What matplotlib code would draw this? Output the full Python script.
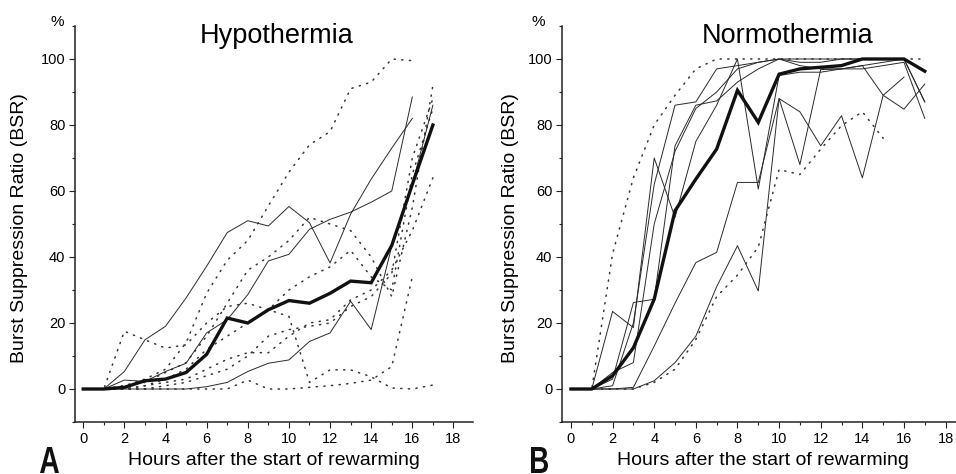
import numpy as np
import matplotlib.pyplot as plt
from matplotlib.ticker import MultipleLocator
from matplotlib.textpath import TextPath
from matplotlib.patches import PathPatch
from matplotlib.font_manager import FontProperties
from matplotlib.transforms import Affine2D

plt.rcParams['font.family'] = ['Liberation Sans', 'DejaVu Sans']

# ---- Panel A: hypothermia (BSR %, hourly from start of rewarming) ----
hypo_mean = [0, 0, 0.5, 2.5, 3, 5, 10.5, 21.5, 20, 24, 26.8, 26, 29, 32.7, 32.2, 43.5, 62, 80]
hypo_solid = [
    [0, 0, 5.3, 14.9, 19, 27.6, 37.2, 47.4, 51, 49.4, 55.3, 50.4, 38.2, 53, 63.6, 73, 82],
    [0, 0, 2.7, 2.3, 5.3, 7.8, 17, 21, 28.6, 38.8, 40.8, 48.4, 51.4, 53.6, 56.6, 60, 88.5],
    [0, 0, 0, 0, 0, 0, 0.7, 2, 5.3, 7.8, 8.8, 14.4, 17, 26.6, 18, 43.3, 62, 86],
]
hypo_dotted = [
    [0, 0, 1, 3, 6, 14, 29, 39, 45, 55.5, 65.7, 74, 78, 91, 93, 100, 99.5],
    [0, 0, 17.5, 14.9, 12.4, 13.4, 20, 25, 26, 24, 22, 2, 5.8, 5.8, 3.7, 0.3, 0, 1.2],
    [0, 0, 0, 0, 0, 0, 0, 0, 2.7, 0, 0, 0.5, 1, 1.7, 2.7, 6.8, 34],
    [0, 0, 1, 2, 5, 8, 16, 26, 36, 40, 45, 52, 50, 48, 40, 28, 55, 92],
    [0, 0, 0, 1, 3, 6, 12, 16, 20, 24, 30, 34, 37, 42, 34, 30, 65, 85],
    [0, 0, 0, 1, 2, 3, 6, 9, 11, 11, 16, 20, 21, 27, 30, 36, 48, 64],
    [0, 0, 0, 0, 1, 2, 4, 6, 10, 16, 18, 19, 20, 25, 28, 35, 70, 88],
]

# ---- Panel B: normothermia ----
normo_mean = [0, 0, 4, 12.5, 27.2, 54, 63.6, 72.7, 90.5, 80.8, 95.4, 97, 97.5, 98, 100, 100, 100, 96.3]
normo_solid = [
    [0, 0, 1, 20, 62, 86, 87, 97, 98, 99, 100, 99, 99, 100, 100, 100, 100, 87],
    [0, 0, 3, 26.2, 27.2, 73.7, 86, 87.3, 93, 97, 100, 98, 97, 97, 97, 98, 99, 82],
    [0, 0, 23.5, 18.6, 70, 52, 75, 86, 100, 60.6, 95, 96, 96, 97, 98, 99, 100, 87],
    [0, 0, 0, 0.5, 13, 26, 38.3, 41.4, 62.6, 62.6, 88, 84, 73.7, 82.8, 64, 89, 94.5],
    [0, 0, 0, 0, 2.5, 8, 16, 31, 43.4, 29.7, 88, 68, 96.8, 97, 98, 89, 84.8, 92.4],
    [0, 0, 5, 8, 50, 72, 85, 90, 97, 99, 100, 100, 100, 100, 100, 100, 100],
]
normo_dotted = [
    [0, 0, 41, 64, 80, 89, 97, 100, 100, 100, 100, 100, 100, 100, 100, 100, 100, 100],
    [0, 0, 0, 0, 2, 6, 15, 28, 34.5, 43, 66.5, 65, 72.7, 79.8, 84, 76],
]

xticks = np.arange(0, 19, 2)


def draw_panel(ax, mean, solid, dotted, title, title_x, xlim):
    for s in dotted:
        ax.plot(np.arange(len(s)), s, color='#333333', lw=1.1, ls=(0, (0.8, 4.2)),
                dash_capstyle='round')
    for s in solid:
        ax.plot(np.arange(len(s)), s, color='#2a2a2a', lw=0.7)
    ax.plot(np.arange(len(mean)), mean, color='#111111', lw=2.4, solid_joinstyle='miter')

    ax.set_xlim(*xlim)
    ax.set_ylim(-10, 110)
    ax.set_xticks(xticks)
    ax.set_yticks([0, 20, 40, 60, 80, 100])
    ax.xaxis.set_minor_locator(MultipleLocator(1))
    ax.yaxis.set_minor_locator(MultipleLocator(10))
    ax.tick_params(which='both', direction='out', width=0.8, labelsize=10.5, color='#222222')
    ax.tick_params(which='major', length=4, pad=3)
    ax.tick_params(which='minor', length=2.5)
    for side in ('top', 'right'):
        ax.spines[side].set_visible(False)
    for side in ('left', 'bottom'):
        ax.spines[side].set_linewidth(1.1)
        ax.spines[side].set_color('#222222')
    ax.set_xlabel('Hours after the start of rewarming', fontsize=14)
    ax.set_ylabel('Burst Suppression Ratio (BSR)', fontsize=14)
    ax.text(title_x, 107, title, fontsize=19.5, ha='center', va='center')


def panel_letter(fig, letter, x0, x1, y0, y1):
    # narrow bold letter squeezed into a pixel box (display coords, origin bottom-left)
    tp = TextPath((0, 0), letter, size=1, prop=FontProperties(family='Liberation Sans', weight='bold'))
    ext = tp.get_extents()
    tr = (Affine2D().translate(-ext.x0, -ext.y0)
          .scale((x1 - x0) / ext.width, (y1 - y0) / ext.height)
          .translate(x0, y0))
    fig.add_artist(PathPatch(tr.transform_path(tp), transform=None, fc='#111111', ec='none'))


fig = plt.figure(figsize=(9.56, 4.74), dpi=100)
axA = fig.add_axes([75 / 956, 52 / 474, 398 / 956, 396 / 474])
axB = fig.add_axes([562 / 956, 52 / 474, 394 / 956, 396 / 474])

draw_panel(axA, hypo_mean, hypo_solid, hypo_dotted, 'Hypothermia', 9.4, (-0.4, 18.95))
draw_panel(axB, normo_mean, normo_solid, normo_dotted, 'Normothermia', 10.4, (-0.43, 18.5))

axA.yaxis.set_label_coords(-0.118, 0.49)
axB.yaxis.set_label_coords(-0.109, 0.49)
axA.xaxis.set_label_coords(0.499, -0.076)
axB.xaxis.set_label_coords(0.509, -0.076)

axA.text(-0.045, 1.01, '%', transform=axA.transAxes, fontsize=11, ha='center', va='center')
axB.text(-0.061, 1.01, '%', transform=axB.transAxes, fontsize=11, ha='center', va='center')

panel_letter(fig, 'A', 40, 59, 1, 27)
panel_letter(fig, 'B', 531, 548, 1, 27)

fig.savefig('out.png', dpi=100)
